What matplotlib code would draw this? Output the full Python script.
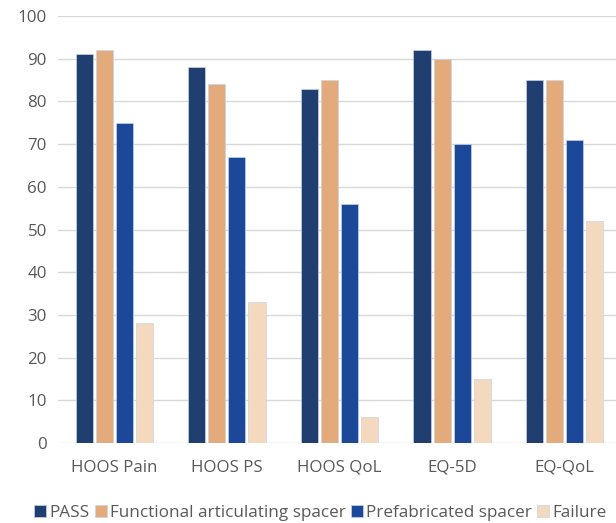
import numpy as np
import matplotlib.pyplot as plt

plt.rcParams['font.family'] = ['Open Sans', 'DejaVu Sans']

categories = ['HOOS Pain', 'HOOS PS', 'HOOS QoL', 'EQ-5D', 'EQ-QoL']
pass_vals = [91, 88, 83, 92, 85]
functional = [92, 84, 85, 90, 85]
prefab = [75, 67, 56, 70, 71]
failure = [28, 33, 6, 15, 52]

series = [
    ('PASS', pass_vals, '#203f70'),
    ('Functional articulating spacer', functional, '#e3ab7b'),
    ('Prefabricated spacer', prefab, '#1b4898'),
    ('Failure', failure, '#f4d9be'),
]

fig = plt.figure(figsize=(6.16, 5.23), dpi=100)
ax = fig.add_axes([58 / 616, 80 / 523, 563 / 616, 427 / 523])

x = np.arange(len(categories))
step = 0.178
width = 0.152
for i, (name, vals, col) in enumerate(series):
    ax.bar(x + (i - 1.5) * step, vals, width, color=col, label=name,
           edgecolor='#c8d3e6', linewidth=0.5, zorder=3)

ax.set_xlim(-0.5, len(categories) - 0.5)
ax.set_ylim(0, 100)
ax.set_yticks(range(0, 101, 10))
ax.set_xticks(x)
ax.set_xticklabels(categories)
ax.yaxis.grid(True, color='#d9d9d9', linewidth=1, zorder=0)
for s in ax.spines.values():
    s.set_visible(False)
ax.tick_params(length=0, labelsize=12.2, colors='#595959', pad=8)
ax.tick_params(axis='x', pad=12)

fig.legend(loc='center left', bbox_to_anchor=(34 / 616, 1 - 513 / 523), ncol=4,
           frameon=False, fontsize=12.3, handlelength=0.7, handleheight=0.7,
           handletextpad=0.2, columnspacing=0.3, labelcolor='#595959',
           borderaxespad=0, borderpad=0)

fig.savefig('out.png', dpi=100)
